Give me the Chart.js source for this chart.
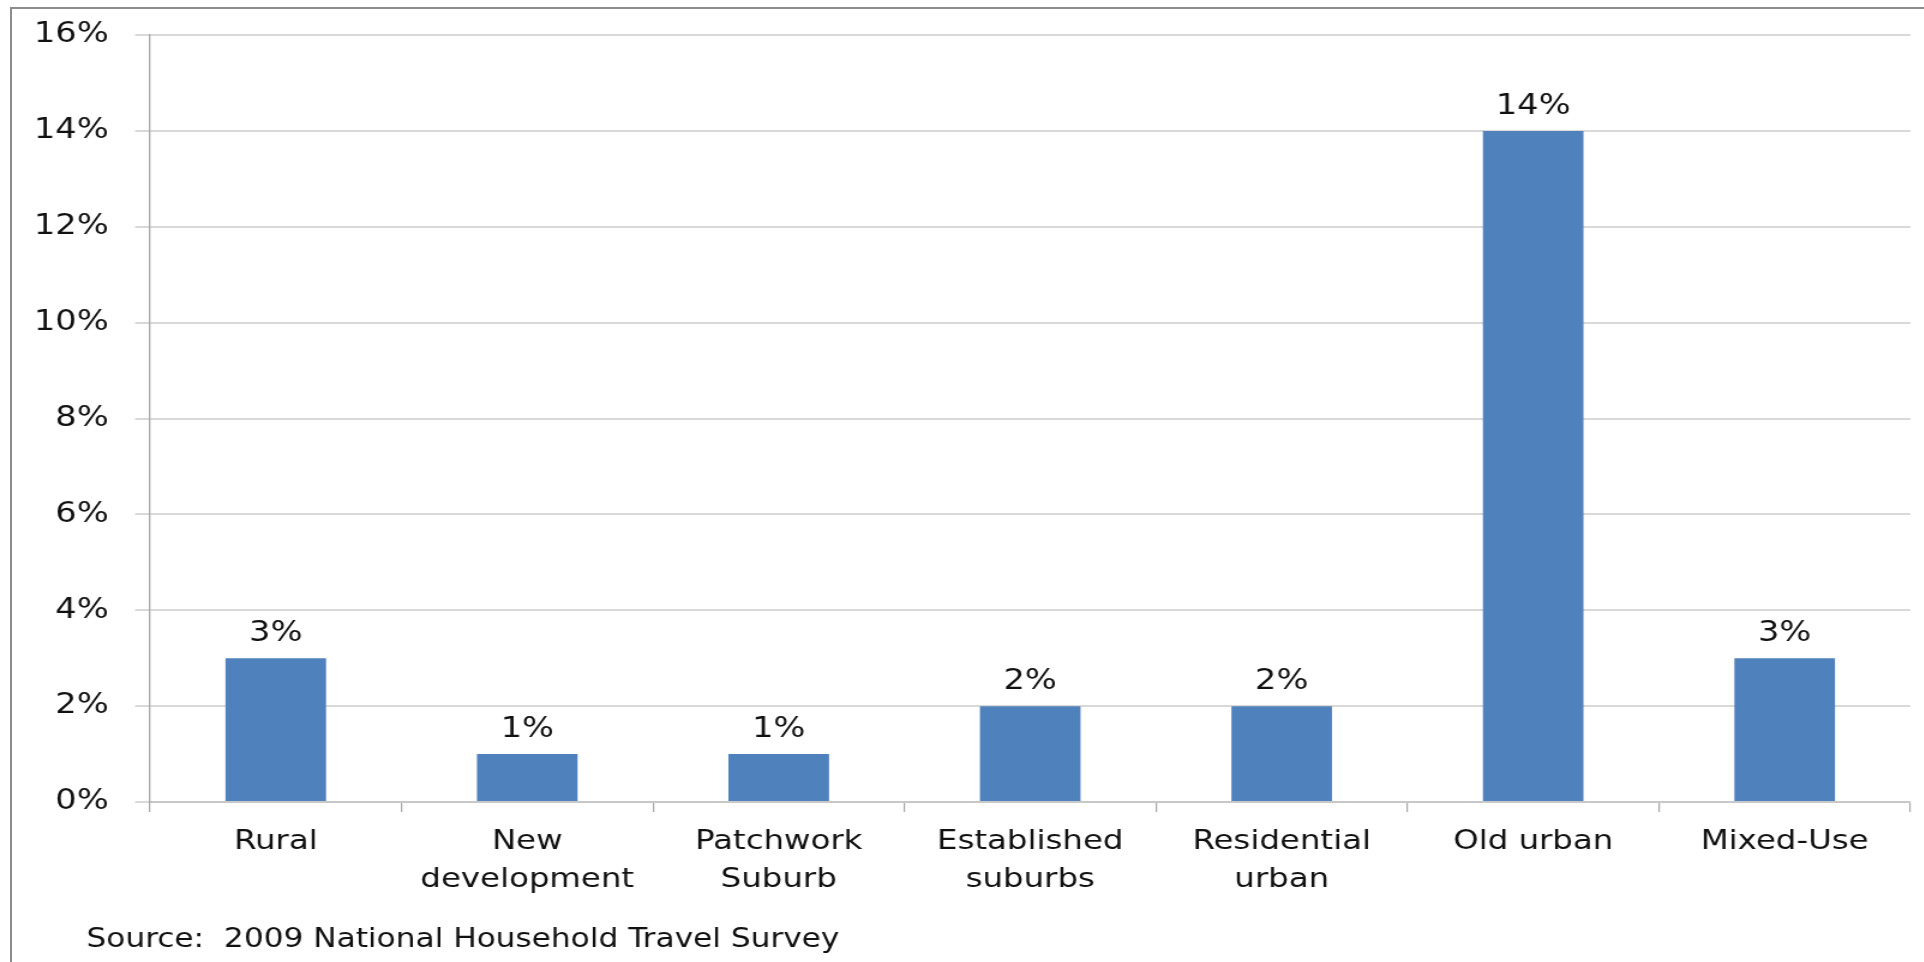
<!DOCTYPE html>
<html>
<head>
<meta charset="utf-8">
<script src="https://cdn.jsdelivr.net/npm/chart.js@4.4.1/dist/chart.umd.min.js"></script>
<style>
  html, body { margin: 0; padding: 0; background: #fff; }
  #wrap { position: relative; width: 1924px; height: 962px; overflow: hidden; }
  #frame {
    position: absolute; left: 10px; top: 7px; right: -10px; bottom: -10px;
    border-left: 2px solid #8c8c8c; border-top: 2px solid #8c8c8c;
    pointer-events: none;
  }
  /* the chart is laid out narrow and widened, which gives the broad lettering */
  #myChart { position: absolute; left: 0; top: 0; transform: scaleX(1.2); transform-origin: 0 0; }
</style>
</head>
<body>
<div id="wrap">
  <canvas id="myChart" width="1604" height="962"></canvas>
  <div id="frame"></div>
</div>
<script>
const categories = [
  "Rural",
  ["New", "development"],
  ["Patchwork", "Suburb"],
  ["Established", "suburbs"],
  ["Residential", "urban"],
  "Old urban",
  "Mixed-Use"
];
const shares = [3, 1, 1, 2, 2, 14, 3];
const yMax = 16;
const yStep = 2;
const sourceNote = "Source:  2009 National Household Travel Survey";

const FONT = "'DejaVu Sans', sans-serif";

// value labels above each bar
const barLabels = {
  id: "barLabels",
  afterDatasetsDraw(chart) {
    const ctx = chart.ctx;
    const meta = chart.getDatasetMeta(0);
    ctx.save();
    ctx.font = "28px " + FONT;
    ctx.fillStyle = "#111";
    ctx.textAlign = "center";
    ctx.textBaseline = "middle";
    meta.data.forEach((bar, i) => {
      ctx.fillText(shares[i] + "%", bar.x, bar.y - 24);
    });
    ctx.restore();
  }
};

// source line under the axis labels
const sourceText = {
  id: "sourceText",
  afterDraw(chart) {
    const ctx = chart.ctx;
    ctx.save();
    ctx.font = "26px " + FONT;
    ctx.fillStyle = "#111";
    ctx.textAlign = "left";
    ctx.textBaseline = "middle";
    ctx.fillText(sourceNote, 72, 940);
    ctx.restore();
  }
};

const ctx1 = document.getElementById("myChart");

const barChart = new Chart(ctx1, {
  type: "bar",
  data: {
    labels: categories,
    datasets: [
      {
        label: "Share",
        data: shares,
        backgroundColor: "#4f81bd",
        borderWidth: 0,
        categoryPercentage: 0.8,
        barPercentage: 0.5,
      },
    ],
  },
  options: {
    responsive: false,
    animation: false,
    layout: {
      padding: { left: 0, right: 12, top: 35, bottom: 0 },
    },
    plugins: {
      legend: { display: false },
      tooltip: { enabled: false },
    },
    scales: {
      x: {
        grid: {
          drawOnChartArea: false,
          tickLength: 10,
          color: "#a6a6a6",
          lineWidth: 1.2,
        },
        border: { color: "#c8c8c8", width: 2 },
        ticks: {
          font: { family: FONT, size: 27, lineHeight: 1.4 },
          color: "#111",
          padding: 11,
          maxRotation: 0,
          autoSkip: false,
        },
        afterFit(scale) {
          scale.height = 160;
        },
      },
      y: {
        min: 0,
        max: yMax,
        grid: {
          color: "#d9d9d9",
          lineWidth: 2,
          tickLength: 12.5,
        },
        border: { color: "#a6a6a6", width: 1.3 },
        ticks: {
          stepSize: yStep,
          font: { family: FONT, size: 28 },
          color: "#111",
          padding: 22,
          callback: (v) => v + "%",
        },
        afterFit(scale) {
          scale.width = 125;
          scale.paddingTop = 0;
          scale.paddingBottom = 0;
        },
      },
    },
  },
  plugins: [barLabels, sourceText],
});
</script>
</body>
</html>
